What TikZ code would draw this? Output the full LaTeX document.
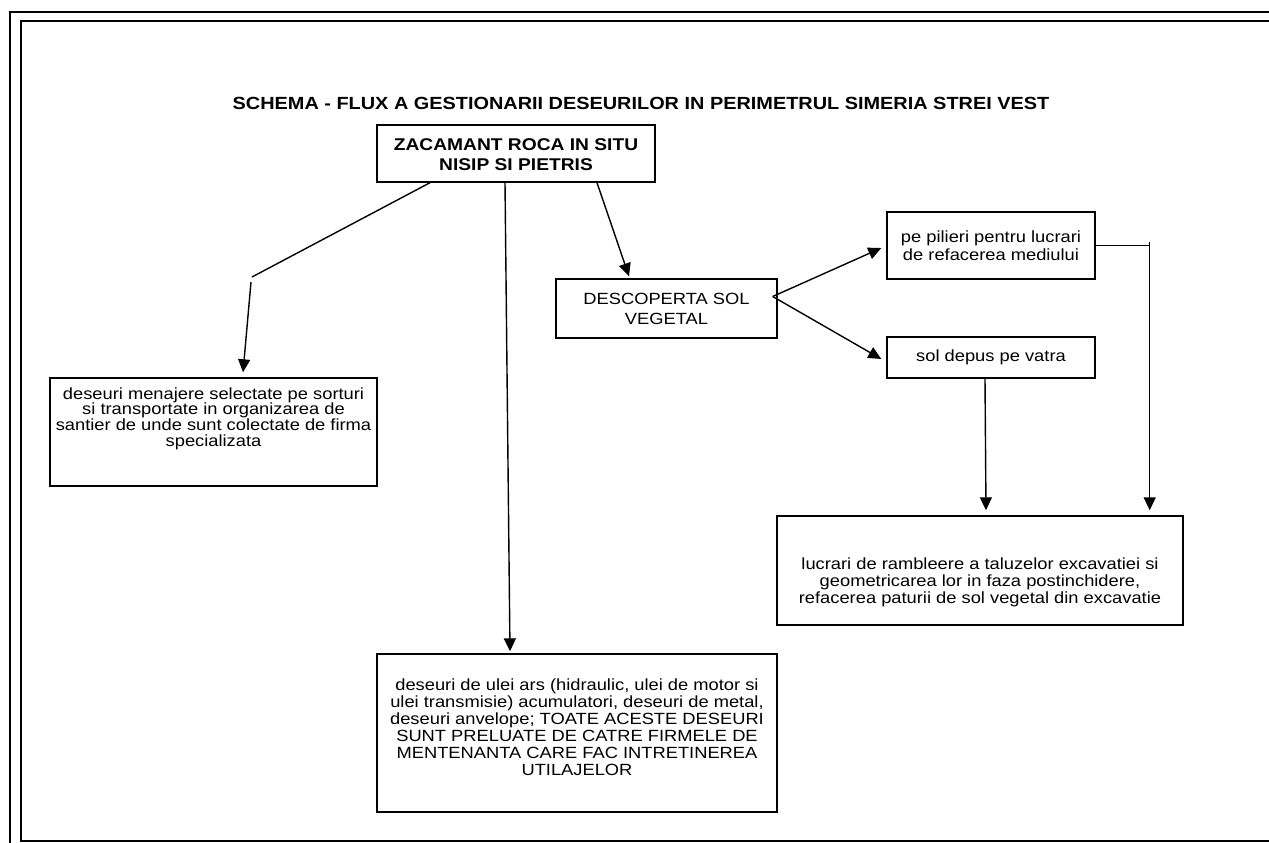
\documentclass[tikz,border=0pt]{standalone}
\usepackage{fontspec}
\setmainfont{Liberation Sans}[FakeStretch=1.13]
\usetikzlibrary{arrows.meta,calc}
\newcommand{\bxt}[3]{\raisebox{#2}[\height][\depth]{\parbox{#1}{\centering #3}}}
\tikzset{
  box/.style={draw, line width=1.4pt, rectangle, inner sep=0pt, font=\fontsize{16.2}{16.9}\selectfont},
  conn/.style={line width=1.4pt},
  arr/.style={conn, -{Triangle[length=13pt,width=12pt]}},
  frameouter/.style={line width=2.5pt},
  frameinner/.style={line width=1.3pt},
}
\begin{document}
\begin{tikzpicture}[x=1pt,y=-1pt]
\useasboundingbox (0,0) rectangle (1269,843);
\clip (0,0) rectangle (1269,843);
\draw[frameouter] (10,12) rectangle (1300,880);
\draw[frameinner] (21,21) rectangle (1300,841);

\node[font=\bfseries\fontsize{17.6}{19}\selectfont] (title) at (641,103) {SCHEMA - FLUX A GESTIONARII DESEURILOR IN PERIMETRUL SIMERIA STREI VEST};

\node[box, minimum width=278pt, minimum height=57pt, font=\bfseries\fontsize{17}{20}\selectfont] (top) at (516,153.5)
  {\bxt{270pt}{-1pt}{ZACAMANT ROCA IN SITU\\NISIP SI PIETRIS}};

\node[box, minimum width=327pt, minimum height=108pt, font=\fontsize{16.2}{15.7}\selectfont] (left) at (213.5,432)
  {\bxt{327pt}{13.5pt}{deseuri menajere selectate pe sorturi\\si transportate in organizarea de\\santier de unde sunt colectate de firma\\specializata}};

\node[box, minimum width=400pt, minimum height=158pt] (bottom) at (577,733)
  {\bxt{400pt}{6pt}{deseuri de ulei ars (hidraulic, ulei de motor si\\ulei transmisie) acumulatori, deseuri de metal,\\deseuri anvelope; TOATE ACESTE DESEURI\\SUNT PRELUATE DE CATRE FIRMELE DE\\MENTENANTA CARE FAC INTRETINEREA\\UTILAJELOR}};

\node[box, minimum width=221pt, minimum height=59pt, font=\fontsize{16.2}{20}\selectfont] (desc) at (666.5,308.5)
  {\bxt{221pt}{0pt}{DESCOPERTA SOL\\VEGETAL}};

\node[box, minimum width=208pt, minimum height=67pt, font=\fontsize{16.2}{18}\selectfont] (pil) at (991,245.5)
  {\bxt{208pt}{0pt}{pe pilieri pentru lucrari\\de refacerea mediului}};

\node[box, minimum width=208pt, minimum height=41pt] (sol) at (991,357.5)
  {\bxt{208pt}{0pt}{sol depus pe vatra}};

\node[box, minimum width=406pt, minimum height=109pt, font=\fontsize{16.2}{17}\selectfont] (rb) at (980,570.5)
  {\bxt{406pt}{-11.5pt}{lucrari de rambleere a taluzelor excavatiei si\\geometricarea lor in faza postinchidere,\\refacerea paturii de sol vegetal din excavatie}};

% connectors
\coordinate (bendL) at (252,277);
\draw[conn] ($(top.south)+(-86,0)$) -- (bendL);
\draw[arr] ($(bendL)+(-1,5)$) -- ($(left.north)+(29.5,-5)$);

\draw[arr] ($(top.south)+(-11,0)$) -- ($(bottom.north)+(-67,-2)$);

\draw[arr] ($(top.south)+(81,0)$) -- ($(desc.north)+(-37.5,-2)$);

\coordinate (split) at ($(desc.east)+(-5,-12)$);
\draw[arr] (split) -- ($(pil.west)+(-5,2.5)$);
\draw[arr] (split) -- ($(sol.west)+(-5,1.5)$);

\coordinate (cornerR) at ($(pil.east)+(54,0)$);
\draw[conn] (pil.east) -- (cornerR);
\draw[arr] ($(cornerR)+(0,-4)$) -- ($(rb.north -| cornerR)+(0,-5)$);

\draw[arr] ($(sol.south)+(-6,0)$) -- ($(rb.north)+(6,-5)$);
\end{tikzpicture}
\end{document}
